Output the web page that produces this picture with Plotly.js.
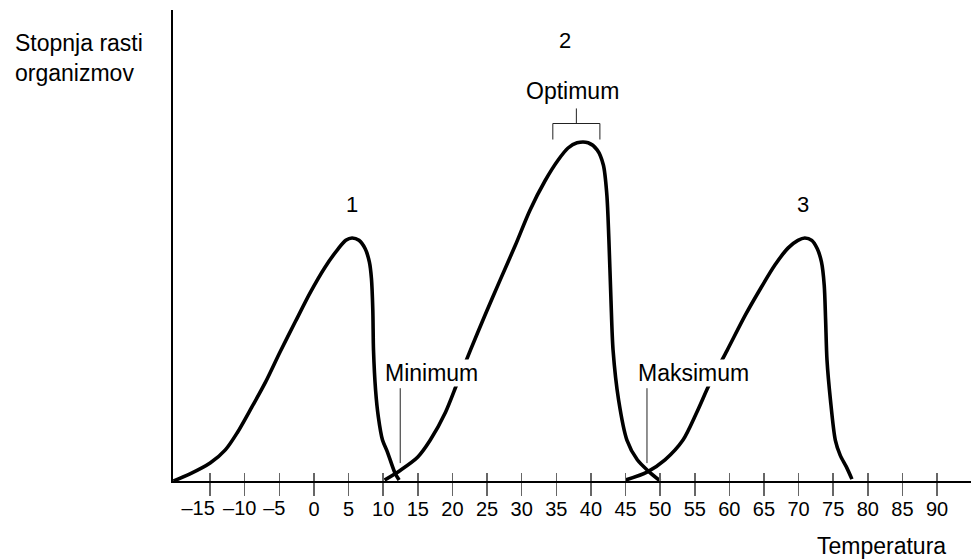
<!DOCTYPE html>
<html>
<head>
<meta charset="utf-8">
<script src="https://cdn.plot.ly/plotly-3.0.1.min.js"></script>
<style>html,body{margin:0;padding:0;background:#fff;}#chart{width:972px;height:559px;}</style>
</head>
<body>
<div id="chart"></div>
<script>
// Temperature tick values and labels
const tickVals = [-15, -10, -5, 0, 5, 10, 15, 20, 25, 30, 35, 40, 45, 50, 55, 60, 65, 70, 75, 80, 85, 90];
const tickLabels = ["–15", "–10", "–5", "0", "5", "10", "15", "20", "25", "30", "35", "40", "45", "50", "55", "60", "65", "70", "75", "80", "85", "90"];

// Curve 1 (psychrophiles)
const curve1X = [-20.3, -17.9, -15.0, -12.8, -11.1, -9.2, -7.0, -4.9, -2.7, -0.5, 1.6, 3.5, 4.6, 5.5, 6.5, 7.4, 8.0, 8.3, 8.5, 8.6, 8.9, 9.3, 9.9, 10.6, 11.7, 12.3];
const curve1Y = [0, 1.5, 3.8, 6.6, 10.2, 15.1, 21.0, 27.4, 33.8, 40.1, 45.4, 49.3, 51.1, 51.6, 51.1, 49.3, 46.5, 43.0, 36.3, 27.8, 19.3, 13.6, 8.7, 6.2, 1.7, 0.2];

// Curve 2 (mesophiles)
const curve2X = [10.2, 12.5, 15.0, 16.8, 19.0, 20.7, 22.6, 24.7, 26.9, 29.1, 31.2, 33.4, 35.3, 36.7, 38.0, 39.6, 40.9, 41.8, 42.3, 42.6, 42.9, 43.2, 44.0, 45.2, 46.7, 48.3, 50.0];
const curve2Y = [0.2, 2.3, 5.1, 8.7, 14.6, 20.8, 27.8, 35.2, 42.7, 50.1, 57.5, 63.8, 68.2, 70.7, 71.8, 71.8, 70.3, 67.1, 60.8, 51.2, 38.4, 27.8, 17.2, 8.7, 4.5, 2.1, 0];

// Curve 3 (thermophiles)
const curve3X = [45.0, 48.1, 50.7, 53.3, 55.3, 57.2, 59.7, 62.3, 64.4, 66.6, 68.5, 69.9, 70.9, 71.9, 72.7, 73.3, 73.7, 73.9, 74.1, 74.6, 75.3, 76.0, 76.9, 77.7];
const curve3Y = [0.2, 1.9, 4.5, 8.7, 14.6, 20.8, 27.8, 35.2, 40.6, 45.9, 49.5, 51.1, 51.6, 51.1, 49.3, 46.5, 41.6, 34.2, 25.7, 17.2, 8.7, 5.5, 3.0, 0.4];

// Markers: optimum range, minimum, maximum
const optimumRange = [34.5, 41.3];
const minimumT = 12.46;
const maximumT = 48.1;
const bracketY = [72.5, 75.9, 79.1];
const pointerY = [3.8, 19.7];

const FONT = "Liberation Sans, Arial, Helvetica, sans-serif";
const curveLine = {color: "#000", width: 3.6, shape: "spline", smoothing: 0.8};

// split labels: the first negative label, the other negative labels, and the rest
const pick = (cond) => ({
  vals: tickVals.filter(v => cond(v)),
  text: tickLabels.filter((t, i) => cond(tickVals[i]))
});
const firstNeg = pick(v => v === tickVals[0]);
const otherNeg = pick(v => v < 0 && v !== tickVals[0]);
const posText = tickLabels.map((t, i) => tickVals[i] < 0 ? "" : t);

const traces = [
  {x: curve1X, y: curve1Y, mode: "lines", line: curveLine, hoverinfo: "skip", xaxis: "x4"},
  {x: curve2X, y: curve2Y, mode: "lines", line: curveLine, hoverinfo: "skip"},
  {x: curve3X, y: curve3Y, mode: "lines", line: curveLine, hoverinfo: "skip"},
  // optimum bracket
  {x: [optimumRange[0], optimumRange[0], optimumRange[1], optimumRange[1], null,
       (optimumRange[0] + optimumRange[1]) / 2, (optimumRange[0] + optimumRange[1]) / 2],
   y: [bracketY[0], bracketY[1], bracketY[1], bracketY[0], null, bracketY[1], bracketY[2]],
   mode: "lines", line: {color: "#222", width: 1}, hoverinfo: "skip", xaxis: "x3"},
  // minimum / maximum pointers
  {x: [minimumT, minimumT, null, maximumT, maximumT],
   y: [pointerY[0], pointerY[1], null, pointerY[0], pointerY[1]],
   mode: "lines", line: {color: "#222", width: 1}, hoverinfo: "skip", xaxis: "x2"}
];

const xRange = [-20.36, 94.9];

const labelAxis = (vals, text, shift) => ({
  range: xRange, overlaying: "x", anchor: "y", side: "bottom",
  showgrid: false, zeroline: false, showline: false,
  ticks: "outside", ticklen: 13, tickwidth: 1, tickcolor: "rgba(0,0,0,0)",
  tickmode: "array", tickvals: vals, ticktext: text, tickangle: 0,
  ticklabelstandoff: -4, ticklabelshift: shift, automargin: false,
  tickfont: {family: FONT, size: 20, color: "#000"}
});

const layout = {
  width: 972, height: 559,
  margin: {l: 173, r: 1, t: 10, b: 78},
  paper_bgcolor: "#fff", plot_bgcolor: "#fff",
  showlegend: false,
  font: {family: FONT, color: "#000", size: 20},
  xaxis: {
    range: xRange, showgrid: false, zeroline: false,
    showline: true, linecolor: "#000", linewidth: 2,
    ticks: "outside", ticklen: 13, tickwidth: 1.5, tickcolor: "#666",
    tickmode: "array", tickvals: tickVals, ticktext: posText, tickangle: 0,
    ticklabelstandoff: -4,
    automargin: false,
    tickfont: {family: FONT, size: 20, color: "#000"}
  },
  xaxis2: {
    range: xRange, overlaying: "x", anchor: "y", side: "bottom",
    showgrid: false, zeroline: false, showline: false,
    ticks: "inside", ticklen: 8, tickwidth: 1.5, tickcolor: "#666",
    tickmode: "array", tickvals: tickVals, showticklabels: false
  },
  xaxis3: labelAxis(firstNeg.vals, firstNeg.text, -12),
  xaxis4: labelAxis(otherNeg.vals, otherNeg.text, -5),
  yaxis: {
    range: [0, 100], showgrid: false, zeroline: false,
    showline: true, linecolor: "#000", linewidth: 2,
    ticks: "", showticklabels: false
  },
  annotations: [
    {text: "Stopnja rasti<br>organizmov", xref: "paper", yref: "paper", x: -0.2005, y: 0.899,
     xanchor: "left", yanchor: "middle", align: "left", showarrow: false, font: {size: 23}},
    {text: "Temperatura", xref: "paper", yref: "paper", x: 0.888, y: -0.139,
     xanchor: "center", yanchor: "middle", showarrow: false, font: {size: 23}},
    {text: "1", x: 5.5, y: 58.6, showarrow: false, font: {size: 22}},
    {text: "2", x: 36.3, y: 93.6, showarrow: false, font: {size: 22}},
    {text: "3", x: 70.7, y: 58.6, showarrow: false, font: {size: 22}},
    {text: "Optimum", x: 37.3, y: 82.8, showarrow: false, font: {size: 23}},
    {text: "Minimum", x: 17.0, y: 22.9, showarrow: false, font: {size: 23}, bgcolor: "#fff", borderpad: 0},
    {text: "Maksimum", x: 54.8, y: 22.9, showarrow: false, font: {size: 23}, bgcolor: "#fff", borderpad: 0}
  ]
};

Plotly.newPlot("chart", traces, layout, {displayModeBar: false, staticPlot: true});
</script>
</body>
</html>
